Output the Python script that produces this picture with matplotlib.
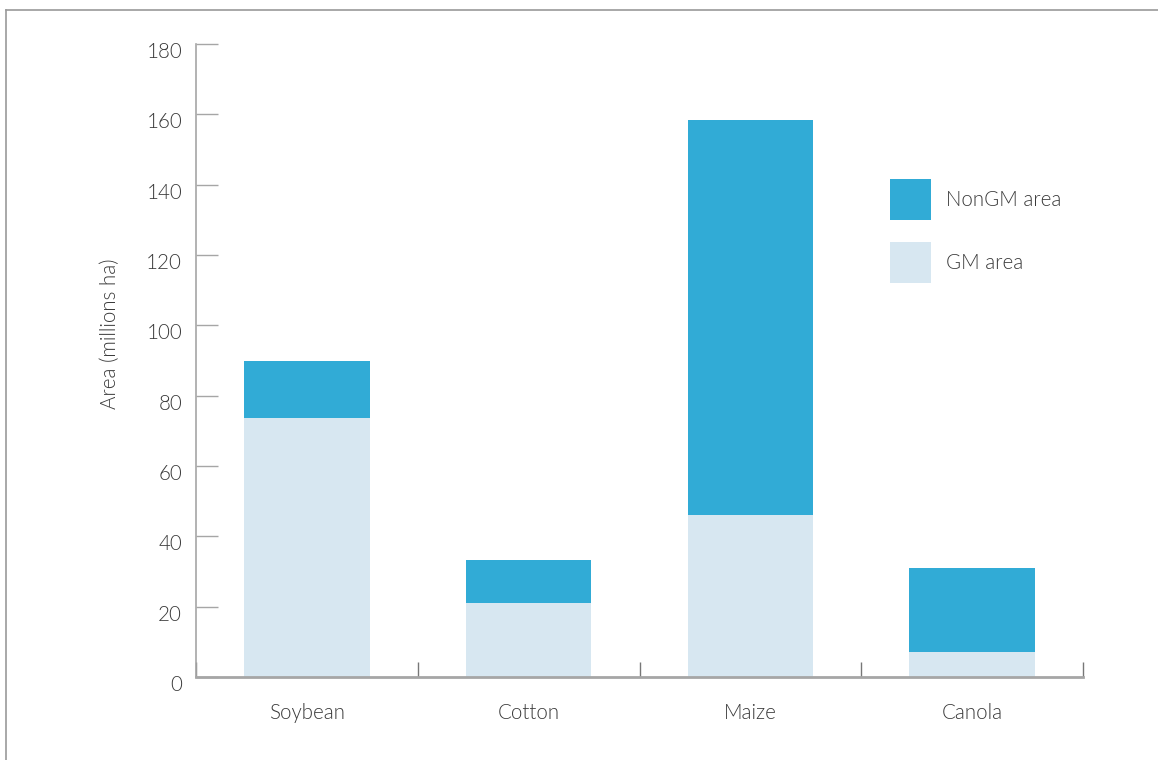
import matplotlib
matplotlib.use("Agg")
import matplotlib.pyplot as plt
import matplotlib.transforms as mtransforms
from matplotlib.patches import Patch
from matplotlib.lines import Line2D
import numpy as np

categories = ["Soybean", "Cotton", "Maize", "Canola"]
gm_area = [73.6, 21.0, 46.1, 7.1]
total_area = [90.0, 33.3, 158.3, 31.0]
nongm_area = [t - g for t, g in zip(total_area, gm_area)]
yticks = [0, 20, 40, 60, 80, 100, 120, 140, 160, 180]

c_nongm = "#31abd6"
c_gm = "#d7e7f1"
c_text = "#3a3a3a"
c_axis = "#a6a6a6"

plt.rcParams['font.family'] = ['Lato', 'DejaVu Sans']
plt.rcParams['font.weight'] = 300
plt.rcParams['axes.labelweight'] = 300

fig = plt.figure(figsize=(11.58, 7.6), dpi=100)
ax = fig.add_axes([196/1158, 1-677/760, (1083-196)/1158, (677-44)/760])

x = np.arange(len(categories))
w = 0.565
ax.bar(x, gm_area, width=w, color=c_gm, label="GM area", zorder=2)
ax.bar(x, nongm_area, bottom=gm_area, width=w, color=c_nongm, label="NonGM area", zorder=2)

ax.set_xlim(-0.5, len(categories) - 0.5)
ax.set_ylim(0, 180)
ax.set_yticks(yticks)
ax.set_yticklabels([str(v) for v in yticks])
ax.tick_params(axis='y', direction='in', length=15.8, width=1, color=c_axis,
               labelsize=14.8, labelcolor=c_text, pad=10)
off = mtransforms.ScaledTranslation(0, -6/100, fig.dpi_scale_trans)
for lab in ax.get_yticklabels():
    lab.set_transform(lab.get_transform() + off)

ax.set_xticks(np.arange(-0.5, len(categories), 1.0))
ax.set_xticklabels([])
ax.tick_params(axis='x', which='major', direction='in', length=10.8, width=1, color="#777777")
ax.set_xticks(x, minor=True)
ax.set_xticklabels(categories, minor=True)
ax.tick_params(axis='x', which='minor', length=0, labelsize=14.8, labelcolor=c_text, pad=19)

for s in ["top", "right"]:
    ax.spines[s].set_visible(False)
ax.spines["left"].set_color(c_axis)
ax.spines["left"].set_linewidth(1.2)
ax.spines["bottom"].set_color(c_axis)
ax.spines["bottom"].set_linewidth(2)

ax.set_ylabel("Area (millions ha)", fontsize=14.8, color=c_text, fontweight=300)
ax.yaxis.set_label_coords(-0.086, 0.542)

handles = [Patch(facecolor=c_nongm, edgecolor='none'), Patch(facecolor=c_gm, edgecolor='none')]
leg = ax.legend(handles, ["NonGM area", "GM area"], frameon=False, fontsize=14.8,
                handlelength=2.0, handleheight=2.69, labelspacing=1.07, handletextpad=0.7,
                loc='upper left', bbox_to_anchor=((890-196)/887, (677-179)/633),
                borderaxespad=0, borderpad=0)
for t in leg.get_texts():
    t.set_color(c_text)

# outer frame (top and left)
fig.add_artist(Line2D([6/1158, 1.0], [1-9.5/760, 1-9.5/760], transform=fig.transFigure,
                      color="#9a9a9a", lw=1.2))
fig.add_artist(Line2D([6/1158, 6/1158], [0, 1-9.5/760], transform=fig.transFigure,
                      color="#9a9a9a", lw=1.2))

fig.savefig("out.png", dpi=100)
